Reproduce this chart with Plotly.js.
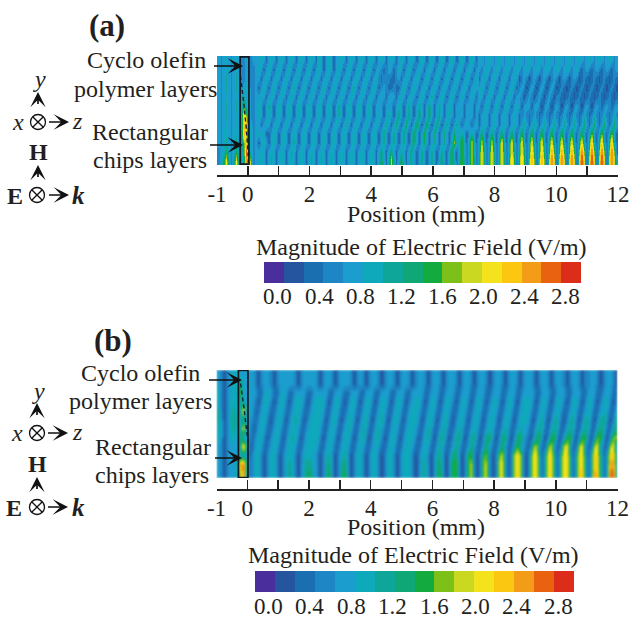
<!DOCTYPE html>
<html>
<head>
<meta charset="utf-8">
<script src="https://cdn.plot.ly/plotly-3.0.1.min.js"></script>
<style>html,body{margin:0;padding:0;background:#fff}#chart{width:630px;height:618px}</style>
</head>
<body>
<div id="chart"></div>
<script>
// Field magnitude: one hex digit per cell = colour band.
// Rows run top to bottom; panel (a) has 160 columns, panel (b) 130, across -1..12 mm.
const fieldRowsA = [
"43454345 43343344 45424542 45424542 45424542 54245424 45424542 45424542 45424542 45424542 45424542 45424542 45424542 54345434 54345434 54345434 54345434 54345434 54345434 54345434",
"43454345 43343334 54245424 54245424 54245424 54245424 54245424 54245424 43234423 54245424 54245424 54245424 54245424 43454345 43454345 43454345 43454345 43454345 32343234 32343234",
"43464346 43343334 42454245 42454245 42454245 42454245 42454245 42454245 32333223 42454245 42454245 42454245 42454245 24542454 24542454 13431343 13431343 13431343 12321232 12321232",
"43464346 43454334 24542454 24542464 24542454 24542454 24542464 24542454 23432232 24542454 24542454 24542454 24542454 45424542 45424542 34313431 34313431 23212321 23212321 23212321",
"43454345 44644334 45424542 45424642 45424542 45424542 45424542 45424542 45424542 45424542 45424642 45424542 45424542 54245424 54245424 43134313 43134313 32123212 32123212 32123212",
"43464346 44854334 54246424 54245424 54245424 54245424 64245424 54245424 44244424 54246424 64247424 64245424 44244424 42454245 42454245 42444244 31343134 31343134 31343134 32343234",
"43464345 44c95334 54245424 54245424 54245424 54245424 64245424 54245424 54246424 74247424 84248424 74245424 44244424 24542454 24542454 23432343 23432343 23532353 23532353 23532353",
"43454345 44bd5434 42454245 42454245 42454245 42454245 42464245 42454245 42464247 42474248 42484247 42464246 42454245 24542454 24542454 24642464 24642464 24642464 24742474 24742474",
"43554355 43da5435 46422454 24542454 24542454 24542454 24542454 24542454 24742464 24742484 24842474 24742474 46424642 47424742 57425742 58425842 58425842 58425842 58425942 59425942",
"43564356 439b6434 24542454 24542464 24542454 24542454 24542454 24542454 24642464 24642474 24742464 24642595 59526a52 6a526a52 6b526b52 6b526b52 7b527b52 7b527b52 7b527c52 7c527c52",
"34575357 538e7434 45424542 45424652 45424542 45424542 45424542 45424542 57425742 46425742 46424642 46425842 59526a52 6b626b62 6b626b62 7b727c72 7c728d82 8d828d82 9e929e92 9e929e92",
"347b636b 637de534 45424642 45424542 45424642 46424642 45424542 45424542 58526a62 58525642 46424642 57425852 69626a62 7b727b72 7b728c82 8c829d92 9d92aea2 aea2aea2 afa2afa2 afa2aea5"
];
const fieldRowsB = [
"4313455444 4431344313 4444431344 4431344313 4443134313 4431344313 4431344313 4431344313 4431344313 4431344313 4431344313 4431344313 3443134431",
"4313455844 4431344313 4444431344 4431344313 4443134313 4431344313 4431344313 4431344313 4431344313 4431344313 4431344313 4431344313 3443134431",
"5313455944 4442245422 4542244442 2444442244 4224442244 4224442244 4224444224 4422444224 4422444224 4422444224 4442244422 4442244422 4442244422",
"5313555664 4431355313 5531355531 3555531355 3135531355 3135531355 3134553135 5313553135 5313553135 5313553135 5531355313 5531355313 5531355313",
"63135654c4 5422454224 5422455422 4555422454 2245422454 2245422454 2245542245 4224542245 4224542245 4224542245 5422454224 5422454224 5422454224",
"6413566474 4323553135 5313565313 5555313553 1356313563 1356313553 1355531356 3135631355 3135531355 3135531355 5313563136 6313663136 6313673137",
"55135654b4 4224542245 4224554224 5554224542 2464224642 2464224542 2455422464 2246422464 2245422454 2246422464 4225652256 5225652256 5225752257",
"5413554854 3235531355 3135653135 5553135531 3553135631 3563135531 3555313563 1366313673 1367313773 1377313784 3137831388 3148831488 3149831499",
"43134445d6 2245422454 2245542245 5542245422 4542245422 4542245422 4554224542 2464224742 2474224842 2484225954 229a4229a4 22ab422ab4 22ab422ab4",
"4313444564 2355313553 1355531355 5431356313 5631355313 5531355313 5553135531 3663137731 3883138931 39a413aba3 16bb616bb6 16bb616bb6 16cb616cc6",
"4313446de7 2355313553 1356531366 6431367313 6731355313 5531355313 5553136631 3773138831 38a3139a31 3ab513aba3 16bb616bb6 16bb616bb6 16cb616dd6",
"4313445ae6 2355313553 1356531367 7431368313 6831355313 5531355313 5553136631 3783138831 38a3139a31 3ab513aba3 16bb616bb6 16bb616cc6 16dc616ee6"
];
const bandColors = ["#4a2f9c","#25559f","#1a6fb1","#1e86c4","#1b9dcd","#0ea9ba","#0fa69a","#0fa776","#13ab40","#7cc019","#cbd821","#f3e21c","#fbc711","#f39c17","#e9620f","#dc2d1b"];
const positionTicks = [-1,0,1,2,3,4,5,6,7,8,9,10,11,12];
const positionLabels = ["-1","0","","2","","4","","6","","8","","10","","12"];
const colorbarTicks = [0,0.4,0.8,1.2,1.6,2.0,2.4,2.8];
const colorbarLabels = ["0.0","0.4","0.8","1.2","1.6","2.0","2.4","2.8"];
const curveAx = [-0.24,-0.14,-0.05,0.02];
const curveAy = [2.2,5,8,11.6];
const curveBx = [-0.22,-0.1,0.02];
const curveBy = [1.5,4.5,8];

const W = 630, H = 618, SERIF = "Liberation Serif", INK = "#231f20";
const X = px => px / W, Y = py => 1 - py / H;
const ZMIN = -0.136, ZMAX = 2.949, BAND = (ZMAX - ZMIN) / 16;
const decode = rows => rows.map(r => r.replace(/ /g,"").split("").map(c => ZMIN + (parseInt(c,16) + 0.5) * BAND));
const colorscale = [];
bandColors.forEach((c,i) => { colorscale.push([i/16,c]); colorscale.push([(i+1)/16,c]); });

function heat(rows, ncols, xa, ya, barX, barBottom, barLen) {
  return {
    type:"heatmap", z:decode(rows), x0:-1+6.5/ncols, dx:13/ncols, y0:0.5, dy:1,
    xaxis:xa, yaxis:ya, zmin:ZMIN, zmax:ZMAX, colorscale, zsmooth:"best", hoverinfo:"skip",
    colorbar:{orientation:"h", xref:"paper", yref:"paper", x:X(barX), xanchor:"left",
      y:Y(barBottom), yanchor:"bottom", len:barLen, lenmode:"pixels", thickness:21, thicknessmode:"pixels",
      xpad:0, ypad:0, outlinewidth:0, borderwidth:0, ticks:"", ticklen:0, tickmode:"array",
      tickvals:colorbarTicks, ticktext:colorbarLabels, showticklabels:false}
  };
}
const curve = (x,y,xa,ya) => ({type:"scatter",mode:"lines",x,y,xaxis:xa,yaxis:ya,hoverinfo:"skip",showlegend:false,
  line:{color:"#10243a",width:1.4,dash:"4px,3px",shape:"spline"}});

const data = [
  heat(fieldRowsA,160,"x","y",264,283,317),
  heat(fieldRowsB,130,"x2","y2",254.5,592,319),
  curve(curveAx,curveAy,"x","y"),
  curve(curveBx,curveBy,"x2","y2")
];

const xAxisBase = py => ({
  anchor:"free", position:Y(py), range:[-1,12], tickmode:"array", tickvals:positionTicks, ticktext:positionLabels,
  ticks:"inside", ticklen:9, tickwidth:1.5, tickcolor:"#222", showline:true, linecolor:"#222", linewidth:1.6,
  showgrid:false, zeroline:false, tickangle:0, tickfont:{family:SERIF,size:23,color:INK}, ticklabelstandoff:-2
});
const yAxisBase = {range:[12,0],visible:false,showgrid:false,zeroline:false};

const text = (t,px,py,size,extra) => Object.assign({text:t,xref:"paper",yref:"paper",x:X(px),y:Y(py),xanchor:"center",yanchor:"middle",
  showarrow:false,font:{family:SERIF,size,color:INK}},extra||{});
const arrow = (hx,hy,tx,ty) => ({text:" ",xref:"paper",yref:"paper",x:X(hx),y:Y(hy),ax:tx-hx,ay:ty-hy,axref:"pixel",ayref:"pixel",
  showarrow:true,arrowhead:3,arrowsize:1.5,arrowwidth:1.7,arrowcolor:"#111",standoff:0,startstandoff:0});

function legendBlock(cx,cy1,cy2,lx,ty,rz) {
  return [
    text("<i>y</i>",cx+1,ty,24), text("<i>x</i>",lx,cy1,24), text("<i>z</i>",rz,cy1-1,24),
    text("<b>H</b>",cx,cy2-43,24), text("<b>E</b>",lx-3,cy2+1,24), text("<b><i>k</i></b>",rz+1,cy2,25),
    arrow(cx,cy1-30,cx,cy1-8), arrow(cx+31,cy1,cx+8,cy1),
    arrow(cx,cy2-30,cx,cy2-8), arrow(cx+31,cy2,cx+8,cy2)
  ];
}
const barLabels = (barX,len,py) => colorbarTicks.map((v,i) =>
  text(colorbarLabels[i], barX + (v-ZMIN)/(ZMAX-ZMIN)*len, py, 23));

const annotations = [
  text("<b>(a)</b>",107,25,31),
  text("Cyclo olefin",146,60,24), text("polymer layers",145,89,24),
  text("Rectangular",150,132,24), text("chips layers",150,160,24),
  arrow(243,66,211,66), arrow(243,145,207,145),
  ...legendBlock(38,122,195,18,79,77),
  text("Position (mm)",416,214,24),
  text("Magnitude of Electric Field (V/m)",422,247,24),
  ...barLabels(264,317,296),

  text("<b>(b)</b>",113,340,31),
  text("Cyclo olefin",140,373,24), text("polymer layers",140,401,24),
  text("Rectangular",153,447,24), text("chips layers",152,475,24),
  arrow(242,380,206,380), arrow(242,458,212,458),
  ...legendBlock(37,433,507,17,391,77),
  text("Position (mm)",416,527,24),
  text("Magnitude of Electric Field (V/m)",413,555,24),
  ...barLabels(254.5,319,606)
];

const paperLine = (x0,y0,x1,y1) => ({type:"line",xref:"paper",yref:"paper",x0:X(x0),y0:Y(y0),x1:X(x1),y1:Y(y1),line:{color:"#111",width:1.3},layer:"above"});
function crossCircle(cx,cy,r) {
  const d = r*0.707;
  return [
    {type:"circle",xref:"paper",yref:"paper",x0:X(cx-r),x1:X(cx+r),y0:Y(cy+r),y1:Y(cy-r),line:{color:"#111",width:1.3},fillcolor:"rgba(0,0,0,0)"},
    paperLine(cx-d,cy-d,cx+d,cy+d), paperLine(cx-d,cy+d,cx+d,cy-d)
  ];
}
const shapes = [
  {type:"rect",xref:"x",yref:"y",x0:-0.25,x1:0.035,y0:0.1,y1:11.9,line:{color:"#111a22",width:1.7},fillcolor:"rgba(0,0,0,0)"},
  {type:"rect",xref:"x2",yref:"y2",x0:-0.29,x1:0.02,y0:0.05,y1:11.95,line:{color:"#111a22",width:1.7},fillcolor:"rgba(0,0,0,0)"},
  ...crossCircle(38,122,7.5), ...crossCircle(37,195,7.5),
  ...crossCircle(37,433,7.5), ...crossCircle(37,507,7.5)
];

const layout = {
  width:W, height:H, margin:{l:0,r:0,t:0,b:0}, paper_bgcolor:"#fff", plot_bgcolor:"#fff", showlegend:false,
  xaxis:Object.assign(xAxisBase(175),{domain:[X(217),X(618)]}),
  yaxis:Object.assign({domain:[Y(165),Y(56)]},yAxisBase),
  xaxis2:Object.assign(xAxisBase(489),{domain:[X(216.5),X(617.5)]}),
  yaxis2:Object.assign({domain:[Y(478),Y(370)]},yAxisBase),
  annotations, shapes
};
Plotly.newPlot("chart",data,layout,{displayModeBar:false,staticPlot:true}).then(gd => {
  gd.querySelectorAll(".hm image").forEach((im,i) => { im.style.filter = i === 0 ? "blur(0.7px)" : "blur(1.1px)"; });
});
</script>
</body>
</html>
